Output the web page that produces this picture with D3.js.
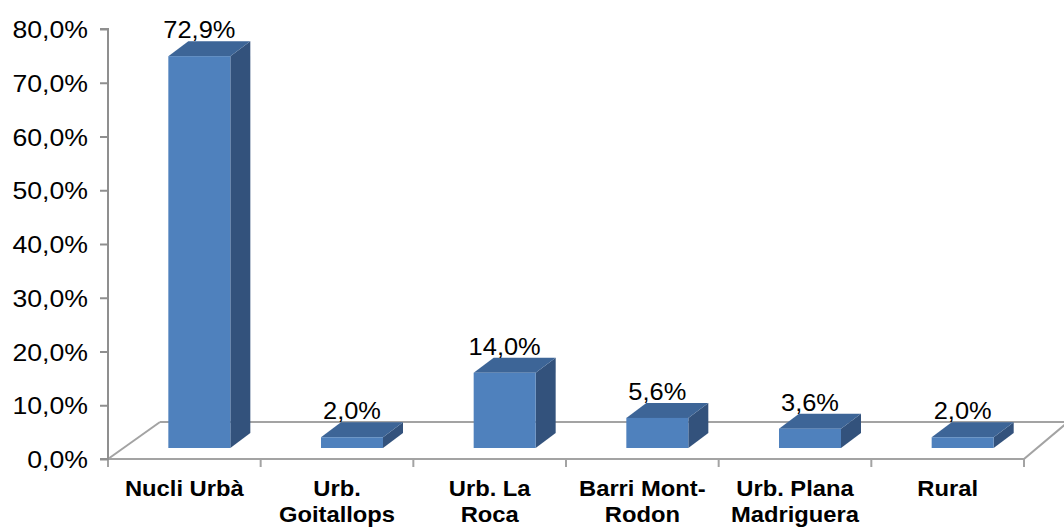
<!DOCTYPE html>
<html><head><meta charset="utf-8">
<script src="https://cdn.jsdelivr.net/npm/d3@7"></script>
<style>html,body{margin:0;padding:0;background:#fff;} svg{display:block;}</style>
</head><body>
<svg id="chart" width="1064" height="527"></svg>
<script>
const categories = ["Nucli Urbà","Urb. Goitallops","Urb. La Roca","Barri Mont-Rodon","Urb. Plana Madriguera","Rural"];
const categoryLines = [["Nucli Urbà"],["Urb.","Goitallops"],["Urb. La","Roca"],["Barri Mont-","Rodon"],["Urb. Plana","Madriguera"],["Rural"]];
const values = [72.9, 2.0, 14.0, 5.6, 3.6, 2.0];
const dataLabels = ["72,9%","2,0%","14,0%","5,6%","3,6%","2,0%"];
const yTicks = [0,10,20,30,40,50,60,70,80];
const yTickLabels = ["0,0%","10,0%","20,0%","30,0%","40,0%","50,0%","60,0%","70,0%","80,0%"];

const svg = d3.select("#chart");
const x0 = 108, x1 = 1024, floorY = 459;
const x = d3.scaleBand().domain(categories).range([x0, x1]);
const y = d3.scaleLinear().domain([0, 80]).range([floorY, 29]);

const axisColor = "#8f8f8f";
const floorColor = "#a3a3a3";
const FONT = "Liberation Sans, Arial, sans-serif";

// floor
const floorDxL = 52, floorDxR = 44, floorDy = -37;
const floor = svg.append("g").attr("fill","none").attr("stroke",floorColor).attr("stroke-width",2);
floor.append("line").attr("x1",x0).attr("y1",floorY).attr("x2",x0+floorDxL).attr("y2",floorY+floorDy);
floor.append("line").attr("x1",x0+floorDxL).attr("y1",floorY+floorDy).attr("x2",x1+floorDxR).attr("y2",floorY+floorDy);
floor.append("line").attr("x1",x1).attr("y1",floorY).attr("x2",x1+floorDxR).attr("y2",floorY+floorDy);
floor.append("line").attr("x1",x0).attr("y1",floorY).attr("x2",x1).attr("y2",floorY);

// category boundary ticks
const edges = categories.map(c => x(c)).concat([x1]);
svg.append("g").selectAll("line").data(edges).join("line")
  .attr("x1",d=>d).attr("x2",d=>d).attr("y1",floorY).attr("y2",floorY+8)
  .attr("stroke",floorColor).attr("stroke-width",2);

// y axis
const yAxis = d3.axisLeft(y).tickValues(yTicks).tickSize(8).tickPadding(12)
  .tickFormat((d,i)=>yTickLabels[i]);
const ya = svg.append("g").attr("transform",`translate(${x0},0)`).call(yAxis);
ya.select(".domain").attr("stroke",axisColor).attr("stroke-width",2).attr("d",`M-8,${y(80)}H0V${floorY}H-8`);
ya.selectAll(".tick line").attr("stroke",axisColor).attr("stroke-width",2);
const sY = 1.11;
ya.selectAll(".tick text").attr("font-family",FONT).attr("font-size",24).attr("fill","#000").attr("dy","0.36em")
  .attr("x",0).attr("transform",`translate(-20,0) scale(${sY},1)`);

// bars (3D)
const barW = 62, shiftX = 15, shiftY = -11, depX = 20, depY = -15;
const frontC = "#4f81bd", topC = "#3d6597", sideC = "#33527c";
const sD = 1.06;
const bars = svg.append("g").selectAll("g").data(categories).join("g");
bars.each(function(c,i){
  const g = d3.select(this);
  const cx = x(c) + x.bandwidth()/2 + shiftX;
  const L = cx - barW/2, R = cx + barW/2;
  const B = floorY + shiftY;
  const T = y(values[i]) + shiftY;
  g.append("path").attr("d",`M${R},${B}L${R+depX},${B+depY}L${R+depX},${T+depY}L${R},${T}Z`).attr("fill",sideC);
  g.append("path").attr("d",`M${L},${T}L${L+depX},${T+depY}L${R+depX},${T+depY}L${R},${T}Z`).attr("fill",topC);
  g.append("rect").attr("x",L).attr("y",T).attr("width",barW).attr("height",B-T).attr("fill",frontC);
  g.append("text").attr("transform",`translate(${cx},${T+depY-3}) scale(${sD},1)`).attr("text-anchor","middle")
    .attr("font-family",FONT).attr("font-size",24).attr("fill","#000")
    .text(dataLabels[i]);
});

// category labels
const sC = 1.08;
const cl = svg.append("g").selectAll("text").data(categories).join("text")
  .attr("transform",c=>`translate(${x(c)+x.bandwidth()/2},496) scale(${sC},1)`).attr("text-anchor","middle")
  .attr("font-family",FONT).attr("font-weight","bold").attr("font-size",22).attr("fill","#000");
cl.each(function(c,i){
  const t = d3.select(this);
  categoryLines[i].forEach((ln,j)=>{
    t.append("tspan").attr("x",0).attr("dy", j===0?0:26).text(ln);
  });
});
</script>
</body></html>
